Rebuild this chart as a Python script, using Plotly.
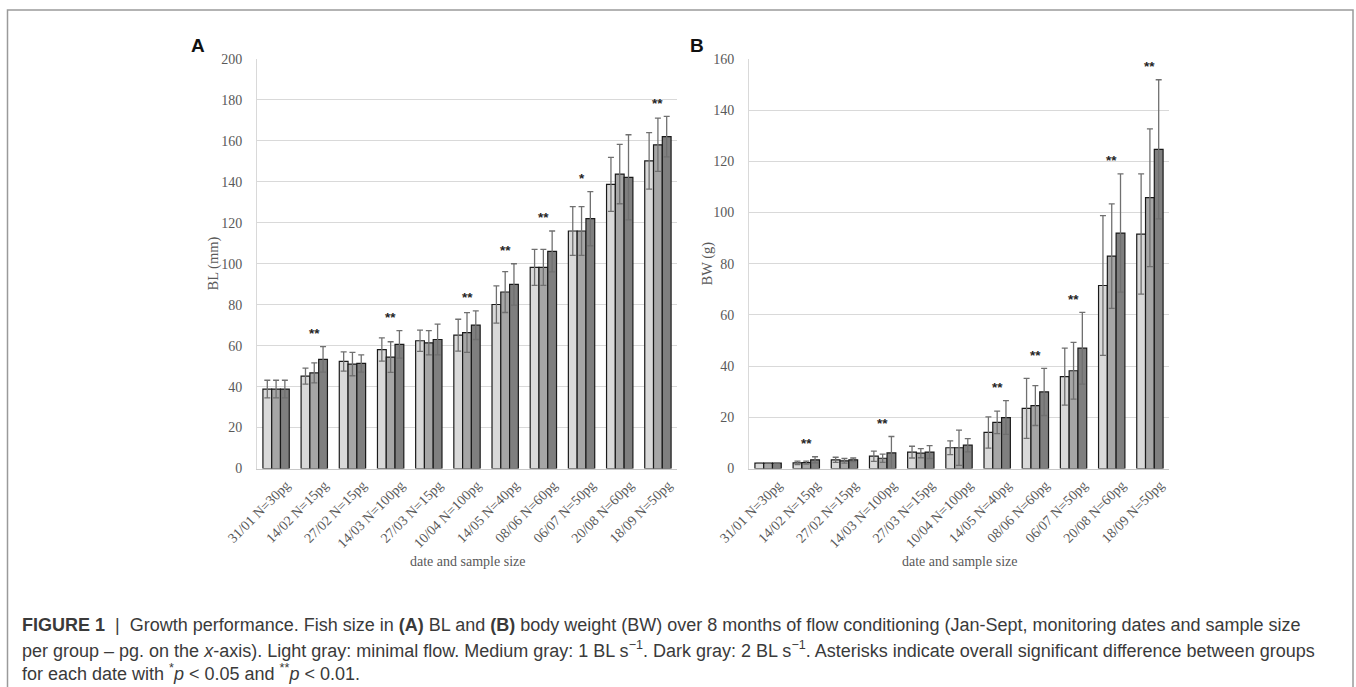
import plotly.graph_objects as go

categories = ["31/01 N=30pg", "14/02 N=15pg", "27/02 N=15pg", "14/03 N=100pg", "27/03 N=15pg",
              "10/04 N=100pg", "14/05 N=40pg", "08/06 N=60pg", "06/07 N=50pg", "20/08 N=60pg",
              "18/09 N=50pg"]

# Panel A: body length (mm)
bl_min = [38.8, 45.1, 52.3, 58.1, 62.4, 65.1, 80.1, 98.2, 116.0, 138.8, 150.2]
bl_min_sd = [4.3, 3.9, 4.7, 5.7, 5.2, 7.8, 9.1, 8.8, 11.9, 13.2, 13.8]
bl_1 = [38.8, 46.7, 51.0, 54.4, 61.4, 66.4, 86.2, 98.2, 116.0, 143.8, 158.1]
bl_1_sd = [4.3, 4.9, 5.7, 7.5, 5.9, 9.7, 10.0, 8.8, 11.9, 14.5, 13.0]
bl_2 = [38.8, 53.3, 51.3, 60.6, 63.0, 70.0, 89.9, 106.0, 122.0, 142.2, 162.1]
bl_2_sd = [4.3, 6.2, 4.2, 6.7, 7.5, 7.0, 10.1, 10.0, 13.2, 20.8, 9.9]
bl_sig = ["", "**", "", "**", "", "**", "**", "**", "*", "", "**"]

# Panel B: body weight (g)
bw_min = [2.1, 2.2, 3.4, 4.8, 6.4, 8.1, 14.1, 23.5, 35.9, 71.5, 91.6]
bw_min_sd = [0.0, 0.7, 1.0, 2.0, 2.3, 2.7, 6.1, 11.7, 11.1, 27.3, 23.5]
bw_1 = [2.1, 2.3, 3.0, 4.0, 6.0, 8.1, 18.0, 24.6, 38.2, 83.0, 105.8]
bw_1_sd = [0.0, 0.6, 0.9, 1.6, 1.8, 6.9, 4.4, 7.8, 11.1, 20.4, 26.9]
bw_2 = [2.1, 3.4, 3.4, 6.1, 6.4, 9.1, 19.9, 29.9, 47.0, 92.0, 124.7]
bw_2_sd = [0.0, 1.2, 0.7, 6.4, 2.5, 2.6, 6.6, 9.2, 14.0, 23.1, 27.2]
bw_sig = ["", "**", "", "**", "", "", "**", "**", "**", "**", "**"]

group_names = ["minimal flow", "1 BL s-1", "2 BL s-1"]
bar_colors = ["#d9d9d9", "#a6a6a6", "#7f7f7f"]

W, H = 1356, 687
SERIF = "Liberation Serif, Times New Roman, serif"
CAP = "Liberation Sans, Arial, sans-serif"
GRAYTXT = "#595959"

fig = go.Figure()

panels = [
    ("x", "y", [bl_min, bl_1, bl_2], [bl_min_sd, bl_1_sd, bl_2_sd], bl_sig),
    ("x2", "y2", [bw_min, bw_1, bw_2], [bw_min_sd, bw_1_sd, bw_2_sd], bw_sig),
]
for xa, ya, vals, sds, sig in panels:
    for name, v, sd, col in zip(group_names, vals, sds, bar_colors):
        fig.add_trace(go.Bar(
            x=categories, y=v, name=name, xaxis=xa, yaxis=ya, showlegend=False,
            marker=dict(color=col, line=dict(color="#1a1a1a", width=1.2)),
            error_y=dict(type="data", array=sd, visible=True, color="#707070",
                         thickness=1.3, width=3),
            offsetgroup=name,
        ))
    for i, s in enumerate(sig):
        if s:
            top = max(v[i] + sd[i] for v, sd in zip(vals, sds))
            fig.add_annotation(x=categories[i], y=top, xref=xa, yref=ya, text="<b>" + s + "</b>",
                               showarrow=False, yshift=13,
                               font=dict(family="Liberation Sans, sans-serif", size=13.5, color="#262626"))

def px_x(p):
    return p / W

def px_y(p):
    return 1 - p / H

ydom = [px_y(468.5), px_y(59)]
xcommon = dict(tickangle=-45, tickfont=dict(family=SERIF, size=14, color=GRAYTXT),
               showline=True, linecolor="#c8c8c8", linewidth=1, ticks="", showgrid=False,
               automargin=False, ticklabelshift=10, ticklabelstandoff=2)
ycommon = dict(dtick=20, gridcolor="#d9d9d9", gridwidth=1, showline=True, linecolor="#d9d9d9",
               zeroline=False, ticks="", ticklabelstandoff=11, automargin=False,
               tickfont=dict(family=SERIF, size=14, color=GRAYTXT))
fig.update_layout(
    template="none",
    width=W, height=H, margin=dict(l=0, r=0, t=0, b=0, autoexpand=False),
    paper_bgcolor="white", plot_bgcolor="white", showlegend=False,
    barmode="group", bargap=0.31, bargroupgap=0,
    xaxis=dict(domain=[px_x(257), px_x(677)], anchor="y", **xcommon),
    xaxis2=dict(domain=[px_x(749), px_x(1169)], anchor="y2", **xcommon),
    yaxis=dict(domain=ydom, anchor="x", range=[0, 200], **ycommon),
    yaxis2=dict(domain=ydom, anchor="x2", range=[0, 160], **ycommon),
)

# Axis titles and panel letters
for xc, text in [(213, "BL (mm)"), (707, "BW (g)")]:
    fig.add_annotation(x=px_x(xc), y=px_y(263.5), xref="paper", yref="paper", text=text,
                       textangle=-90, showarrow=False, xanchor="center", yanchor="middle",
                       font=dict(family=SERIF, size=14.5, color=GRAYTXT))
for xc, text in [(467, "date and sample size"), (959, "date and sample size")]:
    fig.add_annotation(x=px_x(xc), y=px_y(561), xref="paper", yref="paper", text=text,
                       showarrow=False, xanchor="center", yanchor="middle",
                       font=dict(family=SERIF, size=14, color=GRAYTXT))
for xc, text in [(198, "A"), (697, "B")]:
    fig.add_annotation(x=px_x(xc), y=px_y(45), xref="paper", yref="paper", text="<b>" + text + "</b>",
                       showarrow=False, xanchor="center", yanchor="middle",
                       font=dict(family="Liberation Sans, Arial, sans-serif", size=19, color="#111111"))

# Frame
fig.add_shape(type="rect", xref="paper", yref="paper",
              x0=px_x(7.5), x1=px_x(1353), y0=-0.2, y1=px_y(10),
              line=dict(color="#9a9a9a", width=1.5), fillcolor="rgba(0,0,0,0)", layer="below")

# Caption
cap_lines = [
    "<b>FIGURE 1</b>  |  Growth performance. Fish size in <b>(A)</b> BL and <b>(B)</b> body weight (BW) over 8 months of flow conditioning (Jan-Sept, monitoring dates and sample size",
    "per group – pg. on the <i>x</i>-axis). Light gray: minimal flow. Medium gray: 1 BL s<sup>−1</sup>. Dark gray: 2 BL s<sup>−1</sup>. Asterisks indicate overall significant difference between groups",
    "for each date with <sup>*</sup><i>p</i> &lt; 0.05 and <sup>**</sup><i>p</i> &lt; 0.01.",
]
for yc, text in zip([625, 649, 672], cap_lines):
    fig.add_annotation(x=px_x(20), y=px_y(yc), xref="paper", yref="paper", text=text,
                       showarrow=False, xanchor="left", yanchor="middle", align="left",
                       font=dict(family=CAP, size=18, color="#3a3a3a"))

fig.write_html("out.html", config={"displayModeBar": False},
               post_script="document.body.style.margin='0';document.body.style.padding='0';")
